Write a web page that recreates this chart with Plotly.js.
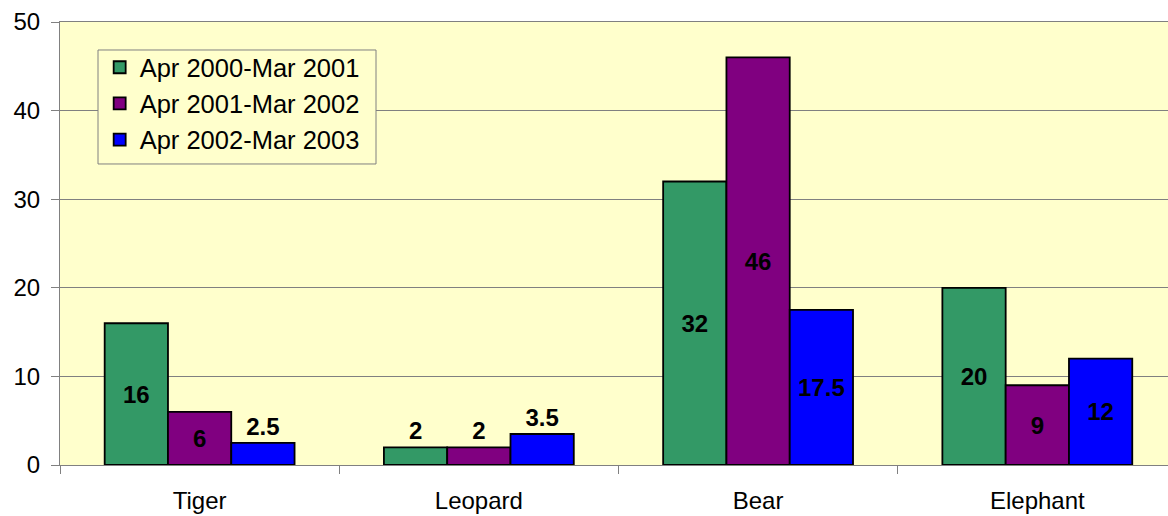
<!DOCTYPE html>
<html>
<head>
<meta charset="utf-8">
<script src="https://cdn.plot.ly/plotly-3.0.1.min.js"></script>
<style>html,body{margin:0;padding:0;background:#fff;}#chart{width:1168px;height:516px;}</style>
</head>
<body>
<div id="chart"></div>
<script>
const categories = ["Tiger", "Leopard", "Bear", "Elephant"];
const seriesNames = ["Apr 2000-Mar 2001", "Apr 2001-Mar 2002", "Apr 2002-Mar 2003"];
const values2000 = [16, 2, 32, 20];
const values2001 = [6, 2, 46, 9];
const values2002 = [2.5, 3.5, 17.5, 12];
const yTicks = [0, 10, 20, 30, 40, 50];

const colors = ["#339966", "#800080", "#0000FF"];
const allValues = [values2000, values2001, values2002];
const FONT = "Liberation Sans, Arial, sans-serif";

const traces = allValues.map((vals, i) => ({
  type: "bar",
  name: seriesNames[i],
  x: categories,
  y: vals,
  text: vals.map(v => String(v)),
  texttemplate: "%{text}",
  textposition: vals.map(v => v >= 5 ? "inside" : "outside"),
  insidetextanchor: "middle",
  textangle: 0,
  constraintext: "none",
  cliponaxis: false,
  textfont: {family: FONT, size: 24, color: "#000", weight: "bold"},
  insidetextfont: {family: FONT, size: 24, color: "#000", weight: "bold"},
  outsidetextfont: {family: FONT, size: 24, color: "#000", weight: "bold"},
  marker: {color: colors[i], line: {color: "#000", width: 1.8}},
  legendgroup: "g" + i,
  hoverinfo: "skip"
}));

const layout = {
  width: 1168,
  height: 516,
  margin: {l: 60, r: 0, t: 22, b: 51},
  paper_bgcolor: "#ffffff",
  plot_bgcolor: "#FFFFCC",
  barmode: "group",
  bargap: 0.32,
  bargroupgap: 0,
  font: {family: FONT, size: 24, color: "#000"},
  showlegend: true,
  legend: {
    x: 0.0358, y: 0.950, xanchor: "left", yanchor: "top",
    bgcolor: "rgba(0,0,0,0)", borderwidth: 0,
    font: {family: FONT, size: 25.5, color: "#000"},
    tracegroupgap: 0,
    traceorder: "grouped"
  },
  shapes: [{
    type: "rect", xref: "paper", yref: "paper",
    x0: 0.0343, x1: 0.2852, y0: 0.6795, y1: 0.9368,
    fillcolor: "#FFFFCC", line: {color: "#808080", width: 1},
    layer: "above"
  }],
  xaxis: {
    type: "category",
    range: [-0.5, 3.468],
    tickson: "boundaries",
    ticks: "outside", ticklen: 8, tickcolor: "#808080",
    showline: true, linecolor: "#808080", linewidth: 1,
    mirror: true,
    showgrid: false,
    tickfont: {family: FONT, size: 24, color: "#000"},
    ticklabelstandoff: 14,
    fixedrange: true
  },
  yaxis: {
    range: [0, 50],
    tickvals: yTicks,
    ticktext: yTicks.map(String),
    ticks: "outside", ticklen: 8, tickcolor: "#808080",
    showline: true, linecolor: "#808080", linewidth: 1,
    showgrid: true, gridcolor: "#808080", gridwidth: 1,
    zeroline: false,
    tickfont: {family: FONT, size: 24, color: "#000"},
    ticklabelstandoff: 6,
    fixedrange: true
  }
};

Plotly.newPlot("chart", traces, layout, {staticPlot: true, displayModeBar: false});
</script>
</body>
</html>
